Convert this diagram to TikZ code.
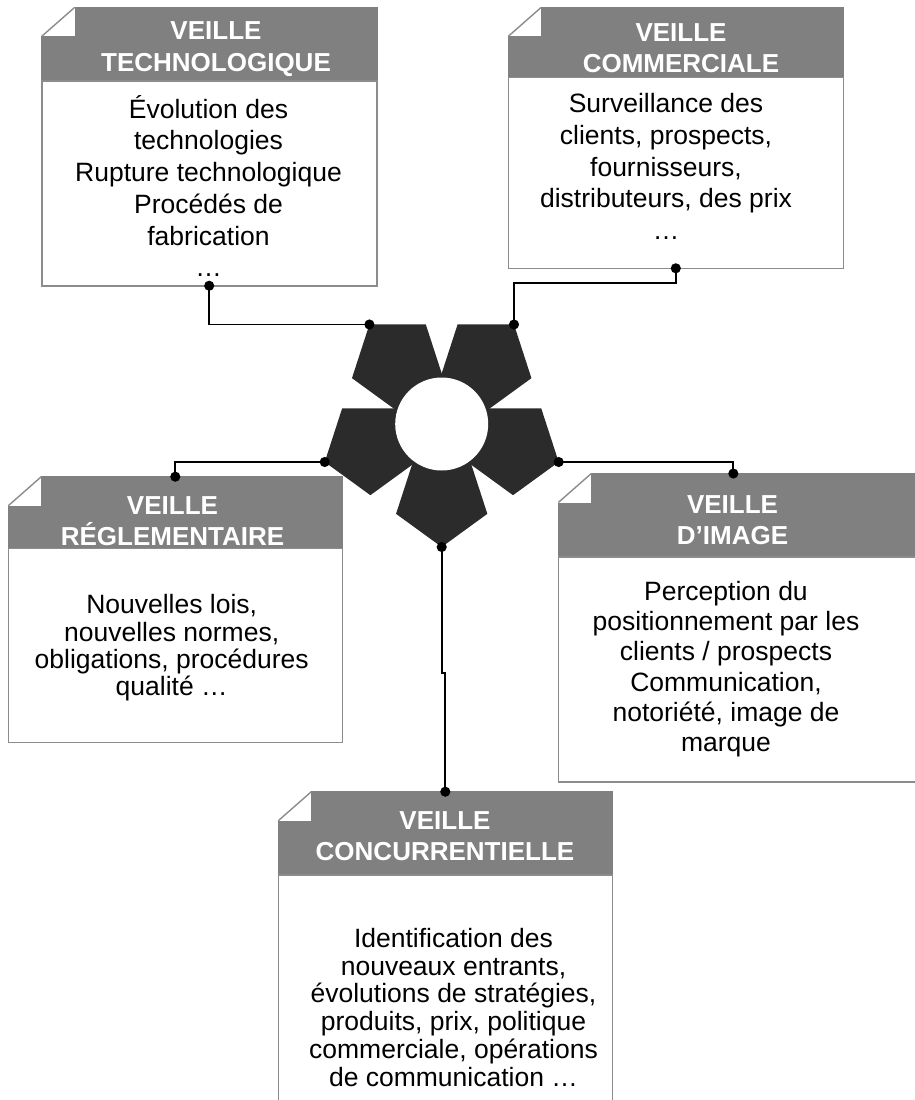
\documentclass[tikz,border=0pt]{standalone}
\usepackage{fontspec}
\setmainfont{Liberation Sans}
\usetikzlibrary{shapes.geometric,arrows.meta,positioning,calc}
\definecolor{headgray}{HTML}{808080}
\definecolor{framegray}{HTML}{8C8C8C}
\definecolor{petalgray}{HTML}{2B2B2B}

\begin{document}
\begin{tikzpicture}[x=1pt, y=-1pt,
    head/.style={rectangle, fill=headgray, draw=headgray, line width=1.6pt, inner sep=0pt, outer sep=0pt},
    card/.style={rectangle, draw=framegray, fill=white, line width=1.6pt, inner sep=0pt, outer sep=0pt},
    ttl/.style={align=center, text=white, inner sep=0pt, font=\fontsize{26}{31.5}\selectfont\bfseries},
    txt/.style={align=center, inner sep=0pt, font=\fontsize{26.5}{#1}\selectfont},
    txt/.default=30,
    petal/.style={regular polygon, regular polygon sides=5, shape border rotate=180, fill=petalgray, minimum size=96pt, inner sep=0pt, outer sep=0pt},
    hub/.style={circle, fill=white, minimum size=93pt, inner sep=0pt},
    fold/.style={draw=framegray, line width=1.4pt},
    link/.style={line width=1.8pt, {Circle[length=10pt]}-{Circle[length=10pt]}, shorten <=-5pt, shorten >=-5pt}
]
    \useasboundingbox (0,0) rectangle (915,1100);
    \clip (0,0) rectangle (915,1100);

    % Flower
    \coordinate (c) at (441.7,424);
    \foreach \a/\n in {54/tr, 126/tl, 198/lf, 270/bt, 342/rt}
        \node[petal] (\n) at ($(c)+(\a:75pt)$) {};
    \node[hub] (hub) at (c) {};

    % Veille technologique
    \node[head, minimum width=335pt, minimum height=73.7pt] (techhd) at (209.2,44.2) {};
    \node[card, minimum width=335pt, minimum height=204.7pt, below=0pt of techhd] (tech) {};
    \node[ttl] (techttl) at (216,49) {VEILLE\\TECHNOLOGIQUE};
    \node[txt=31.7] (techtxt) at (208.5,186) {Évolution des\\technologies\\Rupture technologique\\Procédés de\\fabrication\\…};

    % Veille commerciale
    \node[head, minimum width=335pt, minimum height=70pt] (commhd) at (675.8,42.3) {};
    \node[card, minimum width=335pt, minimum height=191pt, below=0pt of commhd] (comm) {};
    \node[ttl] (commttl) at (681,48) {VEILLE\\COMMERCIALE};
    \node[txt=31.7] (commtxt) at (666,166.5) {Surveillance des\\clients, prospects,\\fournisseurs,\\distributeurs, des prix\\…};

    % Veille reglementaire
    \node[head, minimum width=334pt, minimum height=71.6pt] (reglhd) at (175.3,512.5) {};
    \node[card, minimum width=334pt, minimum height=194pt, below=0pt of reglhd] (regl) {};
    \node[ttl] (reglttl) at (172.5,521) {VEILLE\\RÉGLEMENTAIRE};
    \node[txt=27.3] (regltxt) at (171.7,648) {Nouvelles lois,\\nouvelles normes,\\obligations, procédures\\qualité …};

    % Veille d'image
    \node[head, minimum width=366.7pt, minimum height=83.5pt] (imghd) at (741.65,515.25) {};
    \node[card, minimum width=366.7pt, minimum height=225pt, below=0pt of imghd] (img) {};
    \node[ttl] (imgttl) at (732.5,520) {VEILLE\\D’IMAGE};
    \node[txt=30.3] (imgtxt) at (726,669) {Perception du\\positionnement par les\\clients / prospects\\Communication,\\notoriété, image de\\marque};

    % Veille concurrentielle
    \node[head, minimum width=334pt, minimum height=83.3pt] (conchd) at (445.3,833.35) {};
    \node[card, minimum width=334pt, minimum height=264pt, below=0pt of conchd] (conc) {};
    \node[ttl] (concttl) at (445,836) {VEILLE\\CONCURRENTIELLE};
    \node[txt=27.8] (conctxt) at (453.5,1007.3) {Identification des\\nouveaux entrants,\\évolutions de stratégies,\\produits, prix, politique\\commerciale, opérations\\de communication …};

    % Folded corners
    \foreach \h in {techhd, commhd, reglhd, imghd, conchd} {
        \fill[white] ($(\h.north west)+(-2,-2)$) rectangle ($(\h.north west)+(33,29)$);
        \draw[fold] ($(\h.north west)+(0,29)$) -- ($(\h.north west)+(33,0)$);
    }

    % Connections
    \draw[link] (tech.south) |- (tl.corner 4);
    \draw[link] (comm.south) -- ++(0,15) -| (tr.corner 3);
    \draw[link] (reglhd.north) |- (lf.corner 5);
    \draw[link] (rt.corner 2) -| ($(imghd.north)+(-8.3,0)$);
    \draw[link] (bt.corner 1) -- ++(0,126) -| (conchd.north);
\end{tikzpicture}
\end{document}
